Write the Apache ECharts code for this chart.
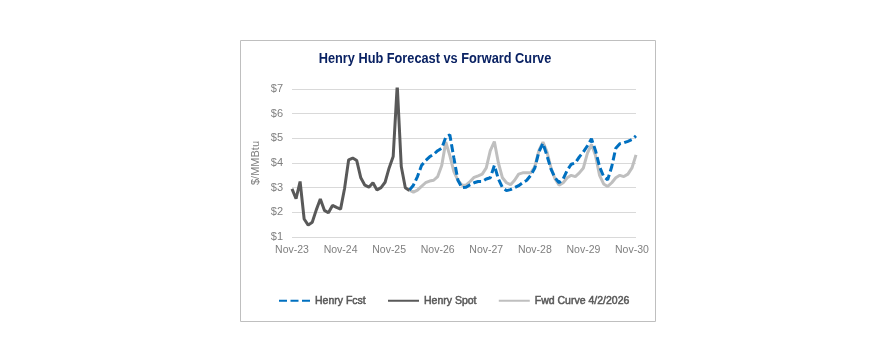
<!DOCTYPE html>
<html><head><meta charset="utf-8">
<script src="https://cdn.jsdelivr.net/npm/echarts@6/dist/echarts.min.js"></script>
<style>html,body{margin:0;padding:0;background:#fff;}#c{width:882px;height:358px;}</style>
</head><body><div id="c"></div>
<script>
var categories = [
 "Nov-23","Dec-23",
 "Jan-24","Feb-24","Mar-24","Apr-24","May-24","Jun-24","Jul-24","Aug-24","Sep-24","Oct-24","Nov-24","Dec-24",
 "Jan-25","Feb-25","Mar-25","Apr-25","May-25","Jun-25","Jul-25","Aug-25","Sep-25","Oct-25","Nov-25","Dec-25",
 "Jan-26","Feb-26","Mar-26","Apr-26","May-26","Jun-26","Jul-26","Aug-26","Sep-26","Oct-26","Nov-26","Dec-26",
 "Jan-27","Feb-27","Mar-27","Apr-27","May-27","Jun-27","Jul-27","Aug-27","Sep-27","Oct-27","Nov-27","Dec-27",
 "Jan-28","Feb-28","Mar-28","Apr-28","May-28","Jun-28","Jul-28","Aug-28","Sep-28","Oct-28","Nov-28","Dec-28",
 "Jan-29","Feb-29","Mar-29","Apr-29","May-29","Jun-29","Jul-29","Aug-29","Sep-29","Oct-29","Nov-29","Dec-29",
 "Jan-30","Feb-30","Mar-30","Apr-30","May-30","Jun-30","Jul-30","Aug-30","Sep-30","Oct-30","Nov-30","Dec-30"
];
// Henry Spot: Nov-23 .. Apr-26
var spotValues = [2.95,2.55,3.25,1.73,1.48,1.6,2.1,2.54,2.08,1.98,2.28,2.2,2.13,2.98,4.13,4.2,4.1,3.4,3.1,3.02,3.2,2.91,3.0,3.22,3.8,4.26,7.16,3.86,3.0,2.89];
var spotStart = 0;
// Henry Fcst: Apr-26 .. Dec-30
var fcstValues = [2.9,3.1,3.45,3.9,4.1,4.25,4.35,4.5,4.6,5.05,5.14,4.2,3.3,3.0,3.02,3.12,3.2,3.25,3.25,3.35,3.4,3.9,3.35,3.0,2.88,2.92,3.0,3.08,3.2,3.3,3.5,3.8,4.45,4.8,4.3,3.75,3.4,3.2,3.35,3.7,3.95,4.0,4.25,4.45,4.7,4.98,4.5,3.85,3.45,3.32,3.85,4.6,4.78,4.82,4.88,4.95,5.1];
var fcstStart = 29;
// Fwd Curve 4/2/2026: Apr-26 .. Dec-30
var fwdValues = [2.9,2.82,2.9,3.05,3.2,3.27,3.3,3.45,3.9,4.85,4.3,3.65,3.3,3.1,3.1,3.25,3.42,3.48,3.55,3.8,4.5,4.87,4.0,3.4,3.2,3.12,3.3,3.55,3.6,3.6,3.6,3.85,4.5,4.85,4.45,3.8,3.35,3.1,3.2,3.4,3.5,3.45,3.6,3.8,4.4,4.75,4.3,3.5,3.15,3.05,3.2,3.4,3.5,3.45,3.55,3.8,4.33];
var fwdStart = 29;
var yTicks = [1,2,3,4,5,6,7];
var titleText = 'Henry Hub Forecast vs Forward Curve';

function pad(vals, start){
  var out = [];
  for (var i=0;i<categories.length;i++){
    var j = i - start;
    out.push(j>=0 && j<vals.length ? vals[j] : null);
  }
  return out;
}

var chart = echarts.init(document.getElementById('c'));
var font = 'Liberation Sans, Arial, sans-serif';
chart.setOption({
  backgroundColor:'#ffffff',
  animation:false,
  graphic:[
    {type:'rect', shape:{x:240.5,y:40.5,width:415,height:281}, style:{fill:'none', stroke:'#bfbfbf', lineWidth:1}, silent:true, z:-1},
    {type:'text', x:435, y:59, scaleX:0.88, scaleY:1,
     style:{text:titleText, fill:'#0a2263', font:'bold 14.5px Liberation Sans, Arial, sans-serif', textAlign:'center', textVerticalAlign:'middle'}}
  ],
  legend:{left:273, top:290, itemWidth:31, itemHeight:14, itemGap:21,
    itemStyle:{opacity:0},
    textStyle:{fontFamily:font, fontSize:10.5, color:'#595959', textBorderColor:'#595959', textBorderWidth:0.5},
    data:['Henry Fcst','Henry Spot','Fwd Curve 4/2/2026']},
  grid:{left:292, right:246, top:89, bottom:121},
  xAxis:{type:'category', data:categories, boundaryGap:false,
    axisLine:{show:false}, axisTick:{show:false},
    axisLabel:{interval:function(i){return i%12===0;}, margin:8, color:'#7f7f7f', fontFamily:font, fontSize:10.5},
    splitLine:{show:false}},
  yAxis:{type:'value', min:yTicks[0], max:yTicks[yTicks.length-1], interval:1,
    name:'$/MMBtu', nameLocation:'middle', nameGap:31,
    nameTextStyle:{color:'#7f7f7f', fontFamily:font, fontSize:11},
    axisLine:{show:false}, axisTick:{show:false},
    axisLabel:{formatter:function(v){return '$'+v;}, margin:9, color:'#7f7f7f', fontFamily:font, fontSize:11},
    splitLine:{lineStyle:{color:'#d9d9d9', width:1}}},
  series:[
    {name:'Henry Fcst', type:'line', data:pad(fcstValues,fcstStart), symbol:'none', z:3,
     lineStyle:{color:'#0070c0', width:3, type:[8,3.5]}, itemStyle:{color:'#0070c0'}},
    {name:'Henry Spot', type:'line', data:pad(spotValues,spotStart), symbol:'none', z:4,
     lineStyle:{color:'#595959', width:3}, itemStyle:{color:'#595959'}},
    {name:'Fwd Curve 4/2/2026', type:'line', data:pad(fwdValues,fwdStart), symbol:'none', z:2,
     lineStyle:{color:'#bfbfbf', width:3}, itemStyle:{color:'#bfbfbf'}}
  ]
});
</script></body></html>
